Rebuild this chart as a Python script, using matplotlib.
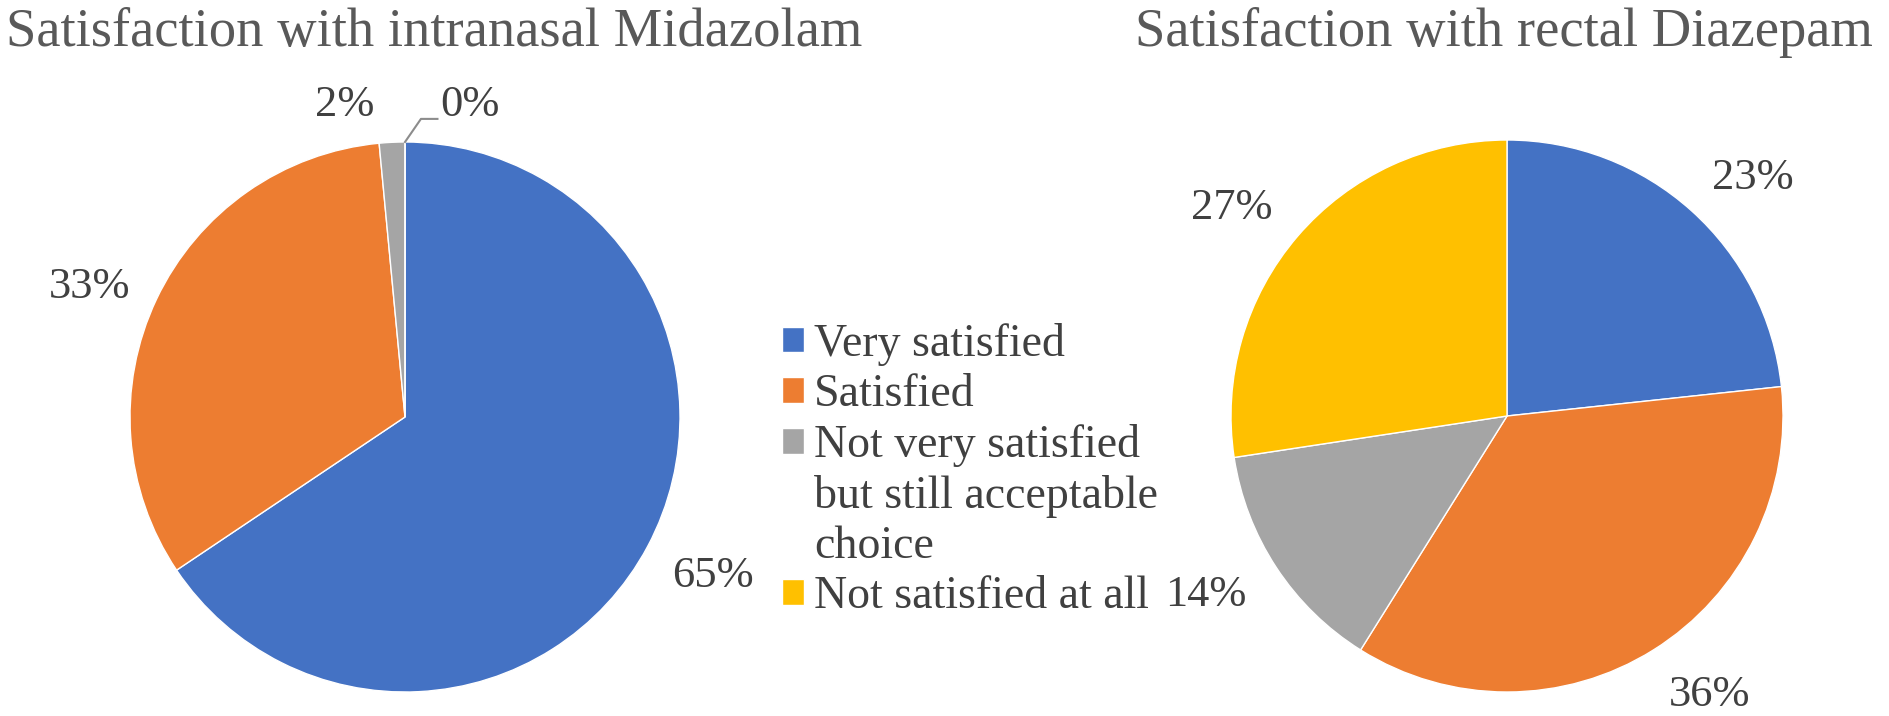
import matplotlib
matplotlib.use("Agg")
import matplotlib.pyplot as plt
from matplotlib.patches import Rectangle
import numpy as np

plt.rcParams['font.family'] = ['Liberation Serif', 'DejaVu Serif']

categories = ["Very satisfied", "Satisfied",
              "Not very satisfied\nbut still acceptable\nchoice",
              "Not satisfied at all"]
midazolam_values = [65.6, 32.9, 1.5, 0.0]
midazolam_labels = ["65%", "33%", "2%", "0%"]
diazepam_values = [23.3, 35.6, 13.7, 27.4]
diazepam_labels = ["23%", "36%", "14%", "27%"]
colors = ["#4472C4", "#ED7D31", "#A5A5A5", "#FFC000"]
title_left = "Satisfaction with intranasal Midazolam"
title_right = "Satisfaction with rectal Diazepam"

W, H = 1890, 716
fig = plt.figure(figsize=(W / 100, H / 100), dpi=100)
TXT = "#404040"
TIT = "#595959"


def pie_axes(cx, cy, r):
    return fig.add_axes([(cx - r) / W, (H - cy - r) / H, 2 * r / W, 2 * r / H])


def draw_pie(ax, values, labels, nudges, dists, overrides=None):
    wedges, _ = ax.pie(values, colors=colors, startangle=90, counterclock=False,
                       radius=1, wedgeprops=dict(edgecolor="white", linewidth=1))
    ax.set_xlim(-1, 1)
    ax.set_ylim(-1, 1)
    ax.set_aspect("equal")
    ax.axis("off")
    for i, (w, lab) in enumerate(zip(wedges, labels)):
        ang = (w.theta1 + w.theta2) / 2 + nudges[i]
        d = dists[i]
        if overrides and i in overrides:
            ang, d = overrides[i]
        x = d * np.cos(np.radians(ang))
        y = d * np.sin(np.radians(ang))
        ax.text(x, y, lab, ha="center", va="center", fontsize=32, color=TXT,
                clip_on=False)
    return wedges


axL = pie_axes(405, 417, 275)
wL = draw_pie(axL, midazolam_values, midazolam_labels,
              nudges=[0.8, 3.0, 0, 0], dists=[1.26, 1.24, 1.0, 1.0],
              overrides={2: (100.9, 1.155), 3: (78.2, 1.16)})
# leader line for the 0% label
axL.plot([0.0, 0.058, 0.118], [1.0, 1.084, 1.084], color="#8C8C8C", lw=1.5,
         clip_on=False)

axR = pie_axes(1507, 416, 276)
draw_pie(axR, diazepam_values, diazepam_labels,
         nudges=[-3.9, 3.9, -2.6, 3.6], dists=[1.24, 1.25, 1.27, 1.25])

fig.text(6 / W, 1 - 46 / H, title_left, ha="left", va="baseline",
         fontsize=39.3, color=TIT)
fig.text(1873 / W, 1 - 46 / H, title_right, ha="right", va="baseline",
         fontsize=39.3, color=TIT)

# legend: one row per text line, the colour key on the first line of each entry
handles, texts = [], []
for w, cat in zip(wL, categories):
    for k, line in enumerate(cat.split("\n")):
        if k == 0:
            handles.append(w)
        else:
            handles.append(Rectangle((0, 0), 1, 1, facecolor="none",
                                     edgecolor="none"))
        texts.append(line)

leg = fig.legend(handles, texts, loc="upper left",
                 bbox_to_anchor=(782 / W, 1 - 323 / H), frameon=False,
                 fontsize=33, handlelength=0.48, handleheight=0.48,
                 handletextpad=0.22, labelspacing=0.17, borderpad=0,
                 borderaxespad=0)
for t in leg.get_texts():
    t.set_color(TXT)

fig.savefig("out.png", dpi=100)
